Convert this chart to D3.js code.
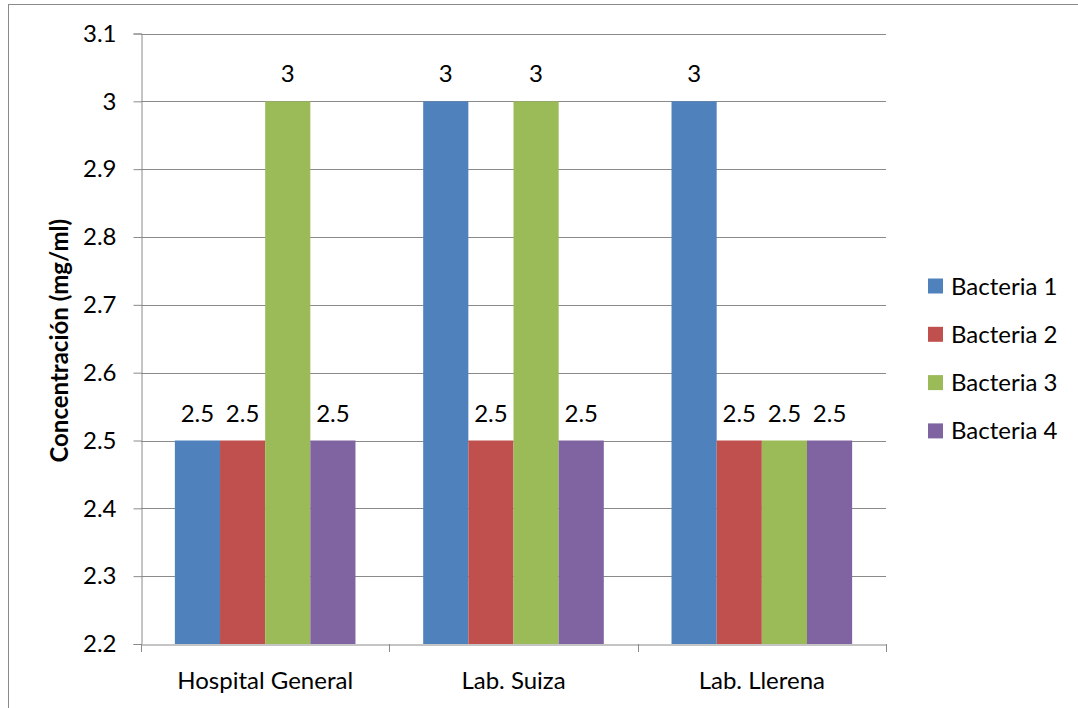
<!DOCTYPE html>
<html>
<head>
<meta charset="utf-8">
<script src="https://cdn.jsdelivr.net/npm/d3@7"></script>
<style>
  html, body { margin: 0; padding: 0; background: #fff; }
  svg { display: block; }
  text { font-family: Lato, "Open Sans", sans-serif; fill: #000; }
</style>
</head>
<body>
<svg id="chart" width="1078" height="708"></svg>
<script>
// Categories (sites) and bacteria series
const categories = ["Hospital General", "Lab. Suiza", "Lab. Llerena"];
const seriesNames = ["Bacteria 1", "Bacteria 2", "Bacteria 3", "Bacteria 4"];
const bacteria1 = [2.5, 3, 3];
const bacteria2 = [2.5, 2.5, 2.5];
const bacteria3 = [3, 3, 2.5];
const bacteria4 = [2.5, 2.5, 2.5];
const seriesColors = ["#4F81BD", "#C0504D", "#9BBB59", "#8064A2"];
const yTicks = [2.2, 2.3, 2.4, 2.5, 2.6, 2.7, 2.8, 2.9, 3, 3.1];
const yTitle = "Concentración (mg/ml)";

const seriesValues = [bacteria1, bacteria2, bacteria3, bacteria4];

const svg = d3.select("#chart");
const axisColor = "#8a8a8a";
const fontSize = 24;

// chart frame
svg.append("rect")
  .attr("x", 8.5).attr("y", 4.5)
  .attr("width", 1100).attr("height", 720)
  .attr("fill", "none").attr("stroke", axisColor).attr("stroke-width", 1);

const plot = { left: 141, right: 886, top: 33.5, bottom: 644 };

const y = d3.scaleLinear().domain([2.2, 3.1]).range([plot.bottom, plot.top]);
const x0 = d3.scaleBand().domain(categories).range([plot.left, plot.right]).padding(0);
const x1 = d3.scaleBand().domain(seriesNames).range([0, x0.bandwidth()])
  .paddingInner(0).paddingOuter(0.75);

// horizontal gridlines
svg.append("g").selectAll("line")
  .data(yTicks.filter(t => t > 2.2))
  .join("line")
  .attr("x1", plot.left).attr("x2", plot.right)
  .attr("y1", d => Math.round(y(d)) + 0.5).attr("y2", d => Math.round(y(d)) + 0.5)
  .attr("stroke", axisColor).attr("stroke-width", 1);

// bars
const groups = svg.append("g").selectAll("g")
  .data(categories)
  .join("g")
  .attr("transform", d => `translate(${x0(d)},0)`);

groups.selectAll("rect")
  .data((c, ci) => seriesNames.map((s, si) => ({ s, si, v: seriesValues[si][ci] })))
  .join("rect")
  .attr("x", d => x1(d.s))
  .attr("width", x1.bandwidth())
  .attr("y", d => y(d.v))
  .attr("height", d => y(2.2) - y(d.v))
  .attr("fill", d => seriesColors[d.si]);

// value labels
groups.selectAll("text")
  .data((c, ci) => seriesNames.map((s, si) => ({ s, si, v: seriesValues[si][ci] })))
  .join("text")
  .attr("x", d => x1(d.s) + x1.bandwidth() / 2)
  .attr("y", d => y(d.v) - 19)
  .attr("text-anchor", "middle")
  .attr("font-size", fontSize)
  .text(d => d3.format("~g")(d.v));

// y axis
const yAxis = svg.append("g")
  .attr("transform", `translate(${plot.left + 0.5},0)`)
  .call(d3.axisLeft(y).tickValues(yTicks).tickSize(8).tickPadding(17)
    .tickFormat(d3.format("~g")));
yAxis.select(".domain").attr("stroke", axisColor);
yAxis.selectAll(".tick line").attr("stroke", axisColor);
yAxis.selectAll(".tick text")
  .attr("font-size", fontSize).attr("font-family", "Lato, sans-serif").attr("fill", "#000");

// x axis
const xAxis = svg.append("g")
  .attr("transform", `translate(0,${plot.bottom + 0.5})`)
  .call(d3.axisBottom(x0).tickSize(0).tickPadding(27));
xAxis.select(".domain").attr("stroke", axisColor);
xAxis.selectAll(".tick text")
  .attr("font-size", fontSize).attr("font-family", "Lato, sans-serif").attr("fill", "#000");

// category separator ticks
const boundaries = categories.map(c => x0(c)).concat([x0.range()[1]]);
svg.append("g").selectAll("line")
  .data(boundaries)
  .join("line")
  .attr("x1", d => Math.round(d) + 0.5).attr("x2", d => Math.round(d) + 0.5)
  .attr("y1", plot.bottom).attr("y2", plot.bottom + 8)
  .attr("stroke", axisColor);

// y axis title
svg.append("text")
  .attr("transform", `translate(68,${(plot.top + plot.bottom) / 2 + 2}) rotate(-90)`)
  .attr("text-anchor", "middle")
  .attr("font-size", 24)
  .attr("font-weight", "bold")
  .text(yTitle);

// legend
const legend = svg.append("g").selectAll("g")
  .data(seriesNames)
  .join("g")
  .attr("transform", (d, i) => `translate(928,${286 + i * 48.3})`);
legend.append("rect")
  .attr("x", 0).attr("y", -7.5).attr("width", 15).attr("height", 15)
  .attr("fill", (d, i) => seriesColors[i]);
legend.append("text")
  .attr("x", 23).attr("y", 8.5)
  .attr("font-size", fontSize)
  .text(d => d);
</script>
</body>
</html>
